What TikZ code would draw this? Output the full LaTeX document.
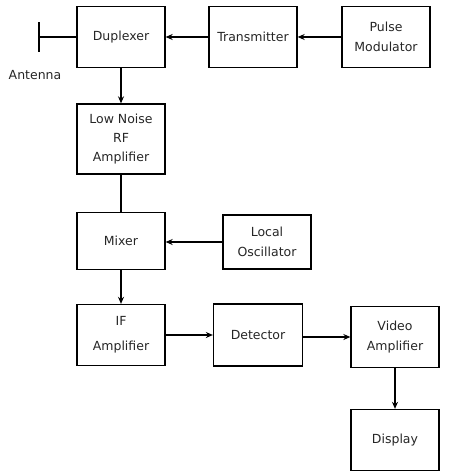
\documentclass[tikz,border=0pt]{standalone}
\usepackage{fontspec}
\setmainfont{DejaVu Sans}
\usepackage{tikz}
\usetikzlibrary{arrows.meta}

\tikzset{
  blk/.style={draw, line width=1.3pt, minimum width=88pt, align=center,
    font=\fontsize{12.5}{20}\selectfont, text=black!85},
  sig/.style={line width=1.3pt, -{Stealth[length=7pt,width=6pt]}}
}

\begin{document}
\begin{tikzpicture}[x=1pt, y=-1pt]
  \useasboundingbox (0,0) rectangle (449,476);
  \node[blk, minimum height=61pt] (dup) at (121,37) {Duplexer};
  \node[blk, minimum height=61pt] (tx) at (253,37) {Transmitter};
  \node[blk, minimum height=61pt] (pm) at (386,37) {Pulse\\Modulator};
  \node[blk, minimum height=70pt, font=\fontsize{12.5}{19}\selectfont] (lna) at (121,139) {Low Noise\\RF\\Amplifier};
  \node[blk, minimum height=57pt] (mix) at (121,241) {Mixer};
  \node[blk, minimum height=54pt] (lo) at (267,242) {Local\\Oscillator};
  \node[blk, minimum height=61pt] (ifa) at (121,335) {IF\\[5pt]Amplifier};
  \node[blk, minimum height=62pt, minimum width=89pt] (det) at (258,335) {Detector};
  \node[blk, minimum height=61pt] (vid) at (395,337) {Video\\Amplifier};
  \node[blk, minimum height=61pt] (disp) at (395,440) {Display};
  % antenna
  \coordinate (ant) at (39,37);
  \draw[line width=1.3pt] (dup) -- (ant);
  \draw[line width=1.3pt] ([yshift=-15pt]ant) -- ([yshift=15pt]ant);
  \node[font=\fontsize{12.5}{14}\selectfont, text=black!85] (antlbl) at (35,75) {Antenna};
  % signal path
  \path[sig]
  (tx) edge (dup)
  (pm) edge (tx)
  (dup) edge (lna)
  (lo) edge (mix.east |- lo)
  (mix) edge (ifa)
  (ifa) edge (det)
  (det.east |- vid) edge (vid)
  (vid) edge (disp)
  ;
  \draw[line width=1.3pt] (lna) -- (mix);
\end{tikzpicture}
\end{document}
